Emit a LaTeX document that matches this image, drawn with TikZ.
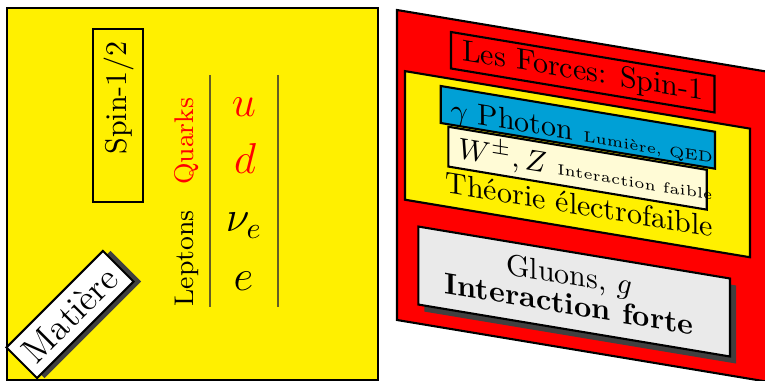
\documentclass[tikz,border=0pt]{standalone}
\definecolor{cyel}{RGB}{255,240,0}
\definecolor{cblue}{RGB}{0,160,214}
\definecolor{ccream}{RGB}{255,251,214}
\definecolor{cgray}{RGB}{234,234,234}
\definecolor{cshadow}{RGB}{64,64,64}
\definecolor{cline}{RGB}{100,94,36}
\tikzset{
  frameline/.style={line width=0.7pt},
  vline/.style={draw=cline, line width=0.7pt},
  rottext/.style={rotate=90, inner sep=0pt},
  mathletter/.style={anchor=base, font=\Large, inner sep=0pt},
  matbox/.style={rotate=45, font=\large, inner sep=3pt, line width=0.7pt},
  slanttext/.style={transform shape, inner sep=0pt},
}
\begin{document}
\begin{tikzpicture}[x=0.333333pt,y=-0.333333pt]
\useasboundingbox (0,0) rectangle (765,380);
% ---------- left panel ----------
\draw[fill=cyel, line width=0.6pt] (7,8) rectangle (378,380);
\draw[frameline] (92.7,29.3) rectangle (142.7,201.7);
\node (spin) [rottext, anchor=base west] at (126,155) {Spin-1/2};
\node (quarks) [rottext, anchor=base, red, font=\small] at (193.3,141.3) {Quarks};
\node (leptons) [rottext, anchor=base, font=\small] at (193.3,258.3) {Leptons};
\draw[vline] (210,75) -- (210,306.7);
\draw[vline] (278.3,75) -- (278.3,306.7);
\node (u) [mathletter, red] at (244,116.7) {$u$};
\node (d) [mathletter, red] at (245,174) {$d$};
\node (nue) [mathletter] at (244,231.7) {$\nu_e$};
\node (e) [mathletter] at (243.5,290) {$e$};
\node (matsh) [matbox, fill=cshadow] at ([xshift=2.5pt]70,314.5) {\phantom{Matière}};
\node (mat) [matbox, draw, fill=white] at (70,314.5) {Matière};
% ---------- right panel ----------
\begin{scope}[shift={(397,10)}, yslant=-0.166667]
\draw[frameline, fill=red] (0,0) rectangle (372,310);
\draw[frameline] (54,13) rectangle (317.5,49.5);
\node (forces) [slanttext] at (185.75,31.5) {Les Forces: Spin-1};
\draw[frameline, fill=cyel] (8,59.8) rectangle (353,188.4);
\draw[frameline, fill=cblue] (43.7,68.7) rectangle (318,105.7);
\node (photon) [slanttext, anchor=base west] at (53,100.8) {$\gamma$ Photon {\tiny Lumière, QED}};
\draw[frameline, fill=ccream] (51.3,108.2) rectangle (309.7,148);
\node (wz) [slanttext, anchor=base west] at (61,137.8) {$W^{\pm}, Z$ {\tiny Interaction faible}};
\node (ew) [slanttext, anchor=base west] at (48,174.5) {Théorie électrofaible};
\fill[cshadow] (27.3,219) rectangle (339,297);
\draw[frameline, fill=cgray] (21.3,213) rectangle (333,291);
\node (gluons) [slanttext, anchor=base] at (172,246.2) {Gluons, $g$};
\node (forte) [slanttext, anchor=base, font=\bfseries] at (172,275.5) {Interaction forte};
\end{scope}
\end{tikzpicture}
\end{document}
